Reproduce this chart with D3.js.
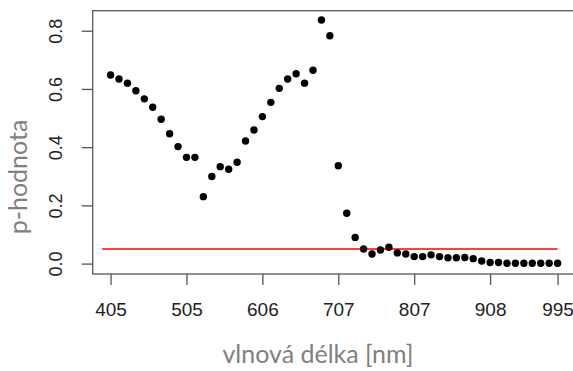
<!DOCTYPE html>
<html>
<head>
<meta charset="utf-8">
<script src="https://cdn.jsdelivr.net/npm/d3@7"></script>
<style>
  html, body { margin: 0; padding: 0; background: #fff; }
  svg { display: block; }
</style>
</head>
<body>
<svg id="chart" width="573" height="371"></svg>
<script>
// p-values per wavelength index (1..54)
const pValues = [
  0.648, 0.634, 0.620, 0.594, 0.566, 0.537, 0.496, 0.446, 0.402, 0.365,
  0.365, 0.230, 0.299, 0.333, 0.324, 0.348, 0.421, 0.459, 0.505, 0.554,
  0.602, 0.634, 0.652, 0.620, 0.664, 0.837, 0.783, 0.336, 0.173, 0.090,
  0.050, 0.033, 0.047, 0.056, 0.037, 0.033, 0.024, 0.024, 0.030, 0.024,
  0.020, 0.020, 0.021, 0.017, 0.009, 0.004, 0.004, 0.001, 0.001, 0.001,
  0.001, 0.001, 0.001, 0.001
];
const xTickIndex = [1, 10, 19, 28, 37, 46, 54];
const xTickLabels = ['405', '505', '606', '707', '807', '908', '995'];
const yTicks = [0, 0.2, 0.4, 0.6, 0.8];
const alpha = 0.05;

const svg = d3.select('#chart');
const plotLeft = 92.7, plotTop = 10.7, plotBottom = 274;

const x = d3.scaleLinear().domain([-1.12, 56.12]).range([plotLeft, plotLeft + 57.24 * 8.434]);
const y = d3.scaleLinear().domain([-0.0357, 0.8688]).range([plotBottom, plotTop]);

// axes
const xAxis = svg.append('g')
  .attr('transform', `translate(0,${plotBottom})`)
  .call(d3.axisBottom(x).tickValues(xTickIndex).tickSize(11).tickPadding(0)
    .tickFormat((d, i) => xTickLabels[i]));
xAxis.select('.domain').remove();
xAxis.selectAll('line').attr('stroke', '#555').attr('stroke-width', 1.3);
xAxis.selectAll('text')
  .attr('y', 42).attr('dy', null)
  .attr('fill', '#222')
  .attr('font-family', 'Liberation Sans, Arial, sans-serif')
  .attr('font-size', 19);

const yAxis = svg.append('g')
  .attr('transform', `translate(${plotLeft},0)`)
  .call(d3.axisLeft(y).tickValues(yTicks).tickSize(11).tickFormat(d3.format('.1f')));
yAxis.select('.domain').remove();
yAxis.selectAll('line').attr('stroke', '#555').attr('stroke-width', 1.3);
yAxis.selectAll('text')
  .attr('x', null).attr('dy', null)
  .attr('text-anchor', 'middle')
  .attr('transform', 'translate(-30.7,0) rotate(-90)')
  .attr('fill', '#222')
  .attr('font-family', 'Liberation Sans, Arial, sans-serif')
  .attr('font-size', 18);

// plot box
svg.append('rect')
  .attr('x', plotLeft).attr('y', plotTop)
  .attr('width', x.range()[1] - plotLeft).attr('height', plotBottom - plotTop)
  .attr('fill', 'none').attr('stroke', '#555').attr('stroke-width', 1.3);

// significance line
svg.append('line')
  .attr('x1', x(0)).attr('x2', x(54))
  .attr('y1', y(alpha)).attr('y2', y(alpha))
  .attr('stroke', '#f00').attr('stroke-width', 1.4);

// points
svg.append('g')
  .selectAll('circle')
  .data(pValues)
  .join('circle')
  .attr('cx', (d, i) => x(i + 1))
  .attr('cy', (d) => y(d))
  .attr('r', 3.7)
  .attr('fill', '#000');

// axis titles
svg.append('text')
  .attr('x', 318).attr('y', 363)
  .attr('text-anchor', 'middle')
  .attr('fill', '#808080')
  .attr('font-family', 'Lato, "Open Sans", sans-serif')
  .attr('font-size', 25)
  .text('vlnová délka [nm]');
svg.append('text')
  .attr('transform', 'translate(27,177) rotate(-90)')
  .attr('text-anchor', 'middle')
  .attr('fill', '#808080')
  .attr('font-family', 'Lato, "Open Sans", sans-serif')
  .attr('font-size', 25)
  .text('p-hodnota');
</script>
</body>
</html>
